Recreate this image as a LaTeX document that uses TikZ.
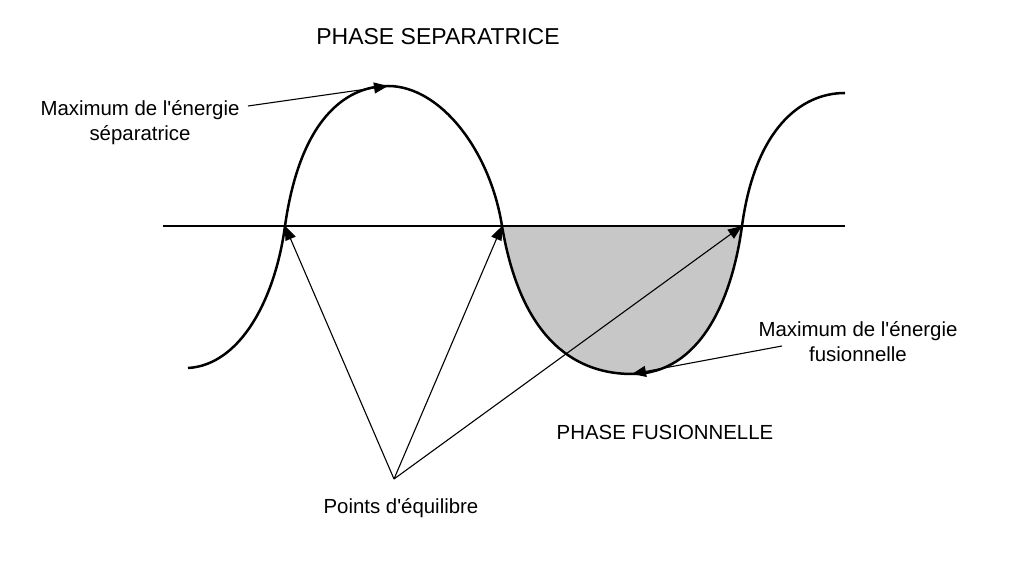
\documentclass[tikz,border=0pt]{standalone}
\usepackage{fontspec}
\setmainfont{Liberation Sans}
\usepackage{xcolor}
\usepackage{tikz}
\usetikzlibrary{positioning,arrows.meta}

\begin{document}
\begin{tikzpicture}[
  x=0.5pt, y=-0.5pt, font=\fontsize{10.2}{12.5}\selectfont,
  lbl/.style={align=center, inner sep=1pt},
  ttl/.style={lbl, font=\fontsize{11.5}{13}\selectfont},
  wave/.style={line width=1.25pt, line join=round},
  arr/.style={-{Triangle[length=7pt, width=5.5pt]}, line width=0.55pt}]
  \useasboundingbox (0,0) rectangle (1024,576);
  % key points of the curve
  \coordinate (eqa) at (285,226);
  \coordinate (eqb) at (502,226);
  \coordinate (eqc) at (742,226);
  \coordinate (top) at (388,86);
  \coordinate (bot) at (632,374);
  % shaded fusion phase
  \fill[black!22] (eqb) .. controls (522,345) and (580,374) .. (bot)
    .. controls (700,374) and (732,300) .. (eqc) -- cycle;
  % axis and curve
  \draw[line width=1.1pt] (163,226) -- (845,226);
  \draw[wave] (188,368) .. controls (240,365) and (275,300) .. (eqa)
    .. controls (300,120) and (345,86) .. (top)
    .. controls (440,86) and (490,150) .. (eqb)
    .. controls (522,345) and (580,374) .. (bot)
    .. controls (700,374) and (732,300) .. (eqc)
    .. controls (755,130) and (800,93) .. (845,93);
  % labels
  \node[ttl] (sep) at (438,37) {PHASE SEPARATRICE};
  \node[lbl] (fus) at (665,432) {PHASE FUSIONNELLE};
  \node[lbl] (maxsep) at (140,123) {Maximum de l\textquotesingle énergie\\séparatrice};
  \node[lbl] (maxfus) at (858,342) {Maximum de l\textquotesingle énergie\\fusionnelle};
  \node[lbl] (eq) at (401,508) {Points d\textquotesingle équilibre};
  \coordinate (sept) at (248,106);
  \coordinate (fust) at (782,346);
  \coordinate (eqt) at (394,479);
  % arrows
  \draw[arr] (sept) -- (top);
  \draw[arr] (fust) -- (bot);
  \foreach \p in {eqa, eqb, eqc} \draw[arr] (eqt) -- (\p);
\end{tikzpicture}
\end{document}
